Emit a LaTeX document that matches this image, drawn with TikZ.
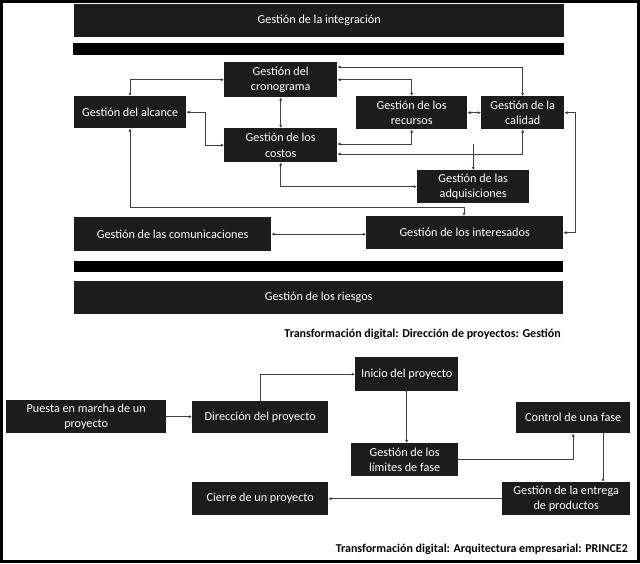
\documentclass[tikz,border=0pt]{standalone}
\usepackage{fontspec}
\setmainfont{Carlito}
\usetikzlibrary{arrows.meta,calc}
\definecolor{boxfill}{HTML}{1C1C1C}
\definecolor{linecol}{HTML}{404040}
\tikzset{
  box/.style={fill=boxfill, draw=none, inner sep=0pt, anchor=north west, text=white,
    font=\fontsize{12.2}{15.5}\selectfont, align=center},
  bar/.style={fill=black, draw=none, inner sep=0pt, anchor=north west},
  conn/.style={draw=linecol, line width=0.9pt, -{Latex[length=3.2pt,width=3.2pt]}},
  both/.style={draw=linecol, line width=0.9pt, {Latex[length=3.2pt,width=3.2pt]}-{Latex[length=3.2pt,width=3.2pt]}},
  caption/.style={font=\fontsize{12}{14}\selectfont\bfseries, text=black, inner sep=0pt, anchor=east}
}
\begin{document}
\begin{tikzpicture}[x=1pt,y=-1pt]
\useasboundingbox (0,0) rectangle (640,563);
\fill[white] (0,0) rectangle (640,563);
\draw[black, line width=3pt] (1.5,1.5) rectangle (638.5,561.5);
% upper diagram
\node[box, minimum width=490pt, minimum height=33pt] (integ) at (74,4) {Gestión de la integración};
\node[bar, minimum width=491pt, minimum height=12pt] (bar2) at (73,43) {};
\node[box, minimum width=113pt, minimum height=35pt] (crono) at (224,62) {Gestión del\\cronograma};
\node[box, minimum width=112pt, minimum height=32pt] (alcance) at (74,96) {Gestión del alcance};
\node[box, minimum width=111pt, minimum height=33pt] (recursos) at (356,96) {Gestión de los\\recursos};
\node[box, minimum width=83pt, minimum height=33pt] (calidad) at (481,96) {Gestión de la\\calidad};
\node[box, minimum width=113pt, minimum height=34pt] (costos) at (224,128) {Gestión de los\\costos};
\node[box, minimum width=112pt, minimum height=33pt] (adq) at (417,170) {Gestión de las\\adquisiciones};
\node[box, minimum width=197pt, minimum height=34pt] (comun) at (74,217) {Gestión de las comunicaciones};
\node[box, minimum width=197pt, minimum height=33pt] (inter) at (366,216) {Gestión de los interesados};
\node[bar, minimum width=489pt, minimum height=11pt] (bar3) at (74,261) {};
\node[box, minimum width=489pt, minimum height=33pt] (riesgos) at (74,281) {Gestión de los riesgos};
\node[caption] (cap1) at (561,334) {Transformación digital: Dirección de proyectos: Gestión};
% helper coordinates
\coordinate (xA) at (130,0);
\coordinate (xI) at (464,0);
\coordinate (xR) at (575,0);
\coordinate (y67) at (0,67);
\coordinate (y144) at (0,144);
\coordinate (y154) at (0,154);
\coordinate (y207) at (0,207);
% upper connectors
\draw[both] (xA |- alcance.north) |- (crono.west);
\draw[both] (crono.south) -- (costos.north);
\draw[both] (alcance.east) -| ($(alcance.east)!0.5!(costos.west)$) |- (costos.west);
\draw[both] (xA |- alcance.south) |- (xI |- y207) -- (xI |- inter.north);
\draw[both] (costos.south) |- (adq.west);
\draw[both] (crono.east |- y67) -| (calidad.north);
\draw[both] (crono.east) -| (recursos.north);
\draw[both] (recursos.east) -- (calidad.west);
\draw[both] (costos.east |- y144) -| (recursos.south);
\draw[conn] (adq.north |- y144) -- (adq.north);
\draw[both] (costos.east |- y154) -| (calidad.south);
\draw[both] (calidad.east) -| (xR |- inter.east) -- (inter.east);
\draw[both] (comun.east) -- (inter.west |- comun.east);
% lower diagram
\node[box, minimum width=160pt, minimum height=33pt] (puesta) at (6,400) {Puesta en marcha de un\\proyecto};
\node[box, minimum width=136pt, minimum height=32pt] (direccion) at (192,401) {Dirección del proyecto};
\node[box, minimum width=103pt, minimum height=34pt] (inicio) at (355,357) {Inicio del proyecto};
\node[box, minimum width=107pt, minimum height=33pt] (limites) at (351,443) {Gestión de los\\límites de fase};
\node[box, minimum width=114pt, minimum height=31pt] (control) at (516,402) {Control de una fase};
\node[box, minimum width=128pt, minimum height=33pt] (entrega) at (502,482) {Gestión de la entrega\\de productos};
\node[box, minimum width=136pt, minimum height=33pt] (cierre) at (192,482) {Cierre de un proyecto};
\node[caption] (cap2) at (628,549) {Transformación digital: Arquitectura empresarial: PRINCE2};
\coordinate (x603) at (603,0);
% lower connectors
\draw[conn] (puesta.east) -- (direccion.west |- puesta.east);
\draw[conn] (direccion.north) |- (inicio.west);
\draw[conn] (inicio.south) -- (inicio.south |- limites.north);
\draw[conn] (limites.east) -| (control.south);
\draw[conn] (x603 |- control.south) -- (x603 |- entrega.north);
\draw[conn] (entrega.west) -- (cierre.east |- entrega.west);
\end{tikzpicture}
\end{document}
